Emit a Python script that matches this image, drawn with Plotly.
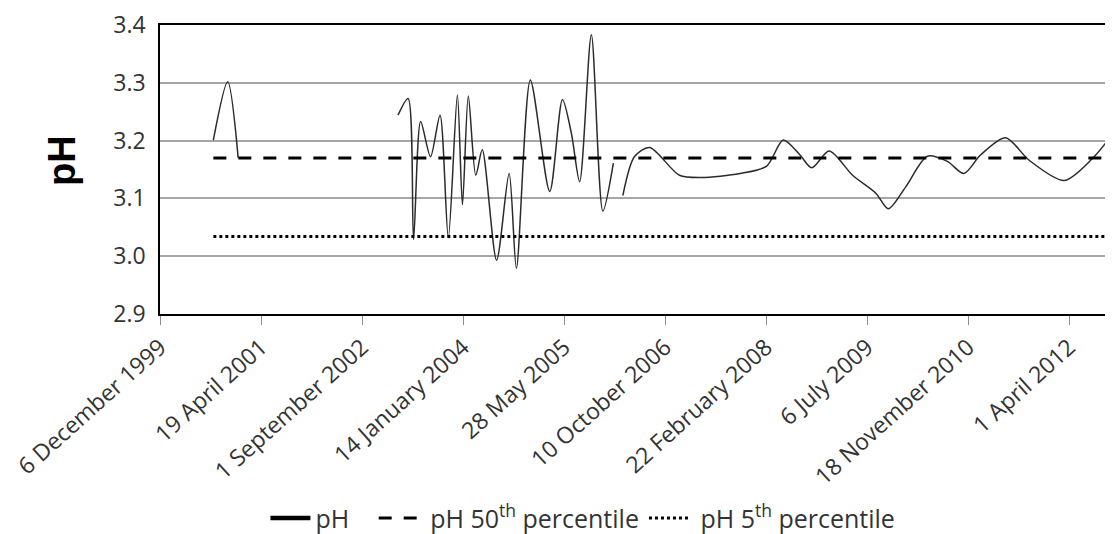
import plotly.graph_objects as go

# ---- data ----
dates = [
    "2000-08-26", "2000-11-05", "2000-12-27",
    "2001-09-01",  # gap
    "2003-02-26", "2003-04-17", "2003-05-14", "2003-06-18", "2003-08-06",
    "2003-09-22", "2003-11-02", "2003-12-17", "2004-01-11", "2004-02-09",
    "2004-03-17", "2004-04-18", "2004-06-28", "2004-08-29", "2004-10-04",
    "2004-12-12", "2005-03-18", "2005-05-20", "2005-07-03", "2005-08-13",
    "2005-10-10", "2005-12-06", "2006-01-27",
    "2006-02-20",  # gap
    "2006-03-15", "2006-05-11", "2006-07-25", "2006-12-20", "2007-04-06",
    "2007-10-16", "2008-02-25", "2008-05-17", "2008-08-08", "2008-10-05",
    "2008-12-30", "2009-04-25", "2009-08-18", "2009-10-19", "2010-01-13",
    "2010-04-30", "2010-08-07", "2010-10-28", "2011-01-18", "2011-05-22",
    "2011-09-16", "2012-03-07", "2012-07-25", "2012-10-30",
]
ph = [
    3.201, 3.302, 3.170,
    None,
    3.244, 3.273, 3.029, 3.233, 3.172,
    3.244, 3.032, 3.279, 3.089, 3.277,
    3.140, 3.184, 2.993, 3.143, 2.979,
    3.305, 3.112, 3.271, 3.213, 3.129,
    3.383, 3.078, 3.161,
    None,
    3.105, 3.172, 3.188, 3.140, 3.136,
    3.143, 3.156, 3.201, 3.175, 3.153,
    3.182, 3.140, 3.109, 3.082, 3.120,
    3.173, 3.164, 3.143, 3.175, 3.205,
    3.166, 3.131, 3.169, 3.210,
]
ph_p50 = 3.170
ph_p5 = 3.034

tick_dates = ["1999-12-06", "2001-04-19", "2002-09-01", "2004-01-14", "2005-05-28",
              "2006-10-10", "2008-02-22", "2009-07-06", "2010-11-18", "2012-04-01"]
tick_labels = ["6 December 1999", "19 April 2001", "1 September 2002", "14 January 2004",
               "28 May 2005", "10 October 2006", "22 February 2008", "6 July 2009",
               "18 November 2010", "1 April 2012"]
y_ticks = [2.9, 3.0, 3.1, 3.2, 3.3, 3.4]

x_start = "1999-12-06"
x_end = "2012-10-30"

FONT = "Open Sans"
TXT = "#333333"
NB = "\u00a0"

fig = go.Figure()
# data line (legend entry drawn by a separate thick legend-only trace, as in the reference)
fig.add_trace(go.Scatter(
    x=dates, y=ph, mode="lines", name="pH", showlegend=False,
    line=dict(color="#2b2b2b", width=1.5, shape="spline", smoothing=0.8),
    connectgaps=False,
))
fig.add_trace(go.Scatter(
    x=[None], y=[None], mode="lines", name="pH" + NB * 3,
    line=dict(color="black", width=4.5),
))
fig.add_trace(go.Scatter(
    x=[dates[0], dates[-1]], y=[ph_p50, ph_p50], mode="lines",
    name=NB + "pH 50<sup>th</sup> percentile",
    line=dict(color="black", width=3, dash="13px,12px"),
))
fig.add_trace(go.Scatter(
    x=[dates[0], dates[-1]], y=[ph_p5, ph_p5], mode="lines",
    name=NB + "pH 5<sup>th</sup> percentile",
    line=dict(color="black", width=3, dash="3px,3px"),
))

fig.update_layout(
    width=1105, height=526,
    margin=dict(l=152, r=1, t=17, b=220, autoexpand=False),
    plot_bgcolor="white", paper_bgcolor="white",
    font=dict(family=FONT, color=TXT, size=20),
    showlegend=True,
    legend=dict(
        orientation="h", xref="container", yref="container",
        x=0.233, y=0.03, xanchor="left", yanchor="middle",
        font=dict(size=25, color=TXT, family=FONT),
        itemwidth=40, tracegroupgap=0, bgcolor="rgba(0,0,0,0)",
    ),
    xaxis=dict(
        type="date", range=[x_start, x_end], automargin=False,
        tickvals=tick_dates, ticktext=tick_labels, tickangle=-42,
        ticklabeloverflow="allow",
        ticks="outside", ticklen=9, tickcolor="#8c8c8c", tickwidth=1,
        showline=True, linecolor="black", linewidth=1.5, mirror=True,
        showgrid=False, zeroline=False,
        tickfont=dict(size=23, family=FONT, color=TXT),
    ),
    yaxis=dict(
        range=[2.9, 3.4], tickvals=y_ticks, tickformat=".1f", automargin=False,
        ticks="outside", ticklen=8, tickcolor="rgba(0,0,0,0)",
        showline=True, linecolor="black", linewidth=1.5,
        showgrid=True, gridcolor="#a6a6a6", gridwidth=1.5,
        zeroline=False,
        tickfont=dict(size=23, family=FONT, color=TXT),
    ),
    annotations=[dict(
        text="<b>pH</b>", xref="paper", yref="paper",
        x=-0.103, y=0.533, textangle=-90, showarrow=False,
        font=dict(size=38, family="Liberation Sans", color="black"),
        xanchor="center", yanchor="middle",
    )],
)

fig.write_html("out.html")
